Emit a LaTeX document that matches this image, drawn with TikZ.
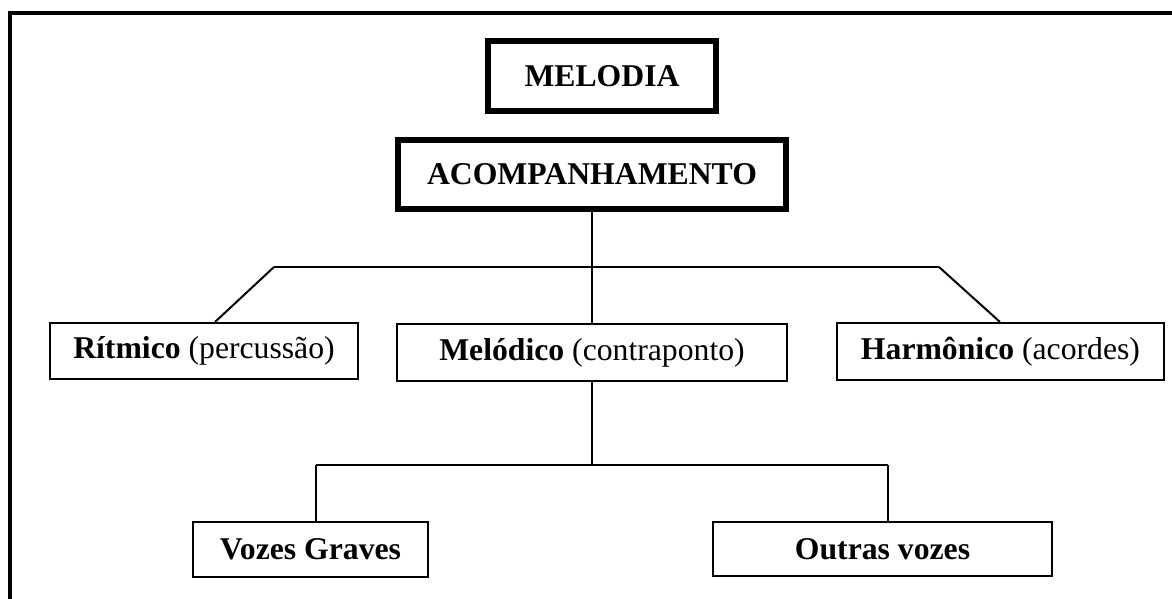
\documentclass[tikz,border=0pt]{standalone}
\usepackage{fontspec}
\setmainfont{Liberation Serif}
\begin{document}
\begin{tikzpicture}[x=1pt,y=-1pt,
  txt/.style={font=\fontsize{31.7}{36}\selectfont, inner sep=0pt, align=center},
  thickbox/.style={txt, draw, line width=5.5pt, rectangle},
  thinbox/.style={txt, draw, line width=2pt, rectangle},
  conn/.style={line width=2pt},
  frame/.style={line width=4pt}]
\useasboundingbox (0,0) rectangle (1172,599);
% frame (only top and left edges visible)
\draw[frame] (10,603) -- (10,13) -- (1176,13);
% nodes
\node[thickbox, minimum width=228pt, minimum height=70pt] (melodia) at (602,76) {\textbf{MELODIA}};
\node[thickbox, minimum width=388pt, minimum height=69pt] (acomp) at (592,174.5) {\textbf{ACOMPANHAMENTO}};
\node[thinbox, minimum width=308pt, minimum height=56pt] (rit) at (204,351) {\textbf{Rítmico} (percussão)};
\node[thinbox, minimum width=390pt, minimum height=57pt] (mel) at (592,352.5) {\textbf{Melódico} (contraponto)};
\node[thinbox, minimum width=327pt, minimum height=57pt] (har) at (1000.5,351.5) {\textbf{Harmônico} (acordes)};
\node[thinbox, minimum width=235pt, minimum height=55pt] (vg) at (310.5,549.5) {\textbf{Vozes Graves}};
\node[thinbox, minimum width=339pt, minimum height=54pt] (ov) at (882.5,549) {\textbf{Outras vozes}};
% junction coordinates
\coordinate (jc) at (592,267);
\coordinate (jl) at (274,267);
\coordinate (jr) at (939,267);
\coordinate (rl) at (215,323);
\coordinate (rr) at (1000,323);
\coordinate (kc) at (592,465);
\coordinate (kl) at (316,465);
\coordinate (kr) at (888,465);
% connectors
\draw[conn] (acomp.south) -- (jc);
\draw[conn] (jl) -- (jr);
\draw[conn] (jc) -- (mel.north);
\draw[conn] (jl) -- (rit.north -| rl);
\draw[conn] (jr) -- (har.north -| rr);
\draw[conn] (mel.south) -- (kc);
\draw[conn] (kl) -- (kr);
\draw[conn] (kl) -- (kl |- vg.north);
\draw[conn] (kr) -- (kr |- ov.north);
\end{tikzpicture}
\end{document}
